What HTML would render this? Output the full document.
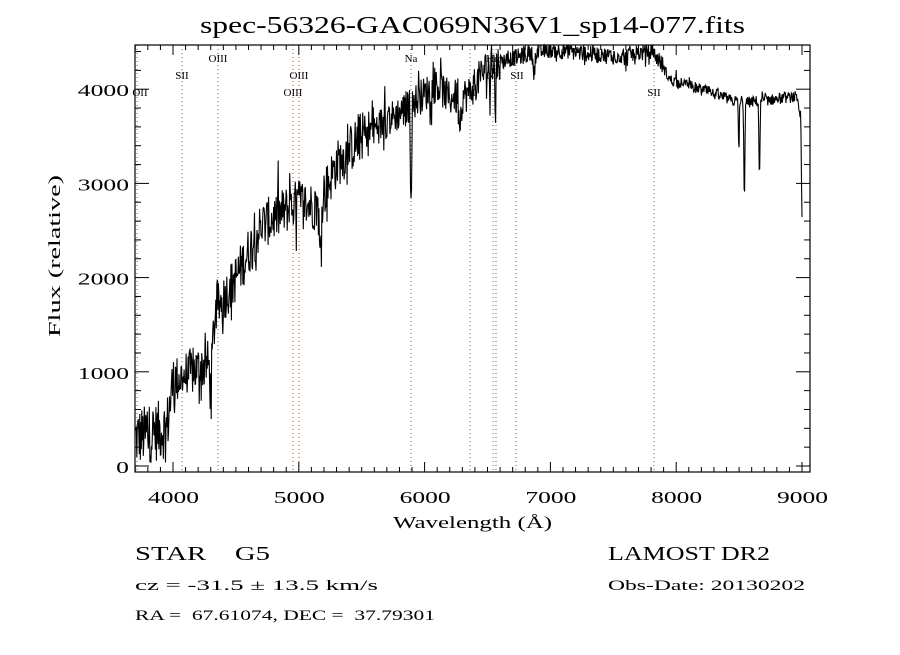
<!DOCTYPE html>
<html><head><meta charset="utf-8"><style>
body{margin:0;background:#fff;}
svg text{font-family:"Liberation Serif",serif;fill:#000;}
</style></head><body>
<svg id="s" width="900" height="650" viewBox="0 0 900 650" xmlns="http://www.w3.org/2000/svg">
<rect width="900" height="650" fill="#fff"/>
<text x="200" y="33" font-size="24" textLength="545" lengthAdjust="spacingAndGlyphs">spec-56326-GAC069N36V1_sp14-077.fits</text>
<g id="lines" stroke="#a0522d" stroke-width="1" stroke-dasharray="1,3"></g>
<g id="ticks" stroke="#000" stroke-width="1"></g>
<polyline id="spec" fill="none" stroke="#000" stroke-width="1.1"/>
<rect x="135" y="45" width="675" height="427" fill="none" stroke="#000" stroke-width="1.2"/>
<g font-size="11" text-anchor="middle">
<text x="140" y="96">OII</text>
<text x="182" y="79">SII</text>
<text x="218" y="62">OIII</text>
<text x="299" y="79">OIII</text>
<text x="293" y="96">OIII</text>
<text x="411" y="62">Na</text>
<text x="470" y="96">OI</text>
<text x="493" y="62">Hα</text>
<text x="494" y="79">NII</text>
<text x="517" y="79">SII</text>
<text x="654" y="96">SII</text>
</g>
<g font-size="17" id="xl"></g>
<g font-size="17" id="yl"></g>
<text x="393" y="528" font-size="17" textLength="159" lengthAdjust="spacingAndGlyphs">Wavelength (Å)</text>
<text transform="translate(60,337) rotate(-90)" font-size="17" textLength="162" lengthAdjust="spacingAndGlyphs">Flux (relative)</text>
<text x="135" y="560" font-size="20" textLength="135" lengthAdjust="spacingAndGlyphs" xml:space="preserve">STAR    G5</text>
<text x="608" y="560" font-size="20" textLength="162" lengthAdjust="spacingAndGlyphs">LAMOST DR2</text>
<text x="135" y="590" font-size="15" textLength="243" lengthAdjust="spacingAndGlyphs">cz = -31.5 ± 13.5 km/s</text>
<text x="608" y="590" font-size="15" textLength="197" lengthAdjust="spacingAndGlyphs">Obs-Date: 20130202</text>
<text x="135" y="620" font-size="15" textLength="300" lengthAdjust="spacingAndGlyphs" xml:space="preserve">RA =  67.61074, DEC =  37.79301</text>
</svg>
<script>
var NS="http://www.w3.org/2000/svg";
function X(w){return 173+(w-4000)*0.1258;}
function Y(f){return 466-f*0.0942;}
function el(p,t,a){var e=document.createElementNS(NS,t);for(var k in a)e.setAttribute(k,a[k]);p.appendChild(e);return e;}
var tk=document.getElementById('ticks');
for(var w=3700;w<=9060;w+=100){var x=X(w);if(x<135||x>810)continue;var L=(w%1000==0)?10:5;
el(tk,'line',{x1:x,y1:472,x2:x,y2:472-L});el(tk,'line',{x1:x,y1:45,x2:x,y2:45+L});}
for(var f=0;f<=4400;f+=200){var y=Y(f);if(y<45)continue;var L=(f%1000==0)?14:6;
el(tk,'line',{x1:135,y1:y,x2:135+L,y2:y});el(tk,'line',{x1:810,y1:y,x2:810-L,y2:y});}
var xl=document.getElementById('xl');[4000,5000,6000,7000,8000,9000].forEach(function(w){el(xl,'text',{x:X(w)-25,y:503,textLength:51,lengthAdjust:'spacingAndGlyphs'}).textContent=w;});
var yl=document.getElementById('yl');[0,1000,2000,3000,4000].forEach(function(f){var n=String(f).length;el(yl,'text',{x:129-n*12.8,y:Y(f)+7,textLength:n*12.8,lengthAdjust:'spacingAndGlyphs'}).textContent=f;});
var lg=document.getElementById('lines');[137,182,218,293,299,411,470,493,496,516,654].forEach(function(x){el(lg,'line',{x1:x,y1:45,x2:x,y2:472});});
var K=[[3700,300],[3950,400],[4000,900],[4300,1100],[4340,1650],[4500,2000],[4700,2550],[5000,2800],[5150,2750],[5300,3200],[5500,3500],[5800,3750],[6000,3950],[6100,4050],[6200,3900],[6350,3950],[6500,4250],[6700,4330],[7000,4420],[7500,4350],[7800,4400],[7870,4300],[7950,4100],[8200,4000],[8500,3850],[8700,3880],[8950,3920],[8990,3700],[9000,2600]];
function C(w){for(var i=0;i<K.length-1;i++){if(w<=K[i+1][0]){var t=(w-K[i][0])/(K[i+1][0]-K[i][0]);return K[i][1]+t*(K[i+1][1]-K[i][1]);}}return 2600;}
var dips=[[5893,1000,6],[5170,600,10],[6563,600,5],[6520,450,4],[8542,1000,6],[8662,800,6],[8498,500,5],[6280,250,15],[6870,200,10],[7600,150,10],[4300,300,10]];
var s=12345;function r(){s=(s*1103515245+12345)%2147483648;return s/2147483648;}
var pts=[];
for(var w=3700;w<=9000;w+=4){var f=C(w);var amp=w<4000?320:(w<5600?260:(w<6600?190:(w<7900?90:60)));
f+=(r()-0.5)*2*amp+(r()<0.1?(r()-0.5)*amp*3:0);
dips.forEach(function(d){var z=(w-d[0])/d[2];f-=d[1]*Math.exp(-z*z);});
if(f<0)f=20;pts.push(X(w).toFixed(1)+","+Math.max(45,Y(f)).toFixed(1));}
document.getElementById('spec').setAttribute('points',pts.join(' '));
</script>
</body></html>
